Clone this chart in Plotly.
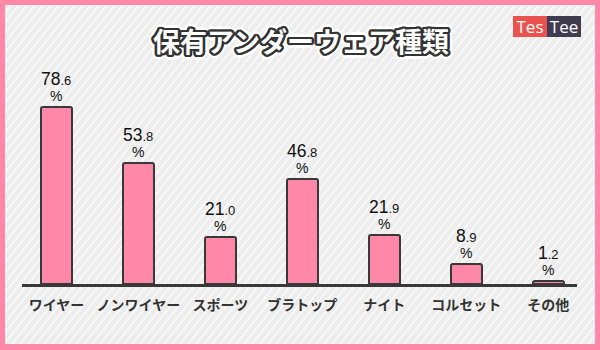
import math
import plotly.graph_objects as go

categories = ["ワイヤー", "ノンワイヤー", "スポーツ", "ブラトップ", "ナイト", "コルセット", "その他"]
values = [78.6, 53.8, 21.0, 46.8, 21.9, 8.9, 1.2]
title_text = "保有アンダーウェア種類"
logo_left = "Tes"
logo_right = "Tee"

W, H = 600, 350
ML, MR, MT, MB = 22, 23, 77, 66
PW, PH = W - ML - MR, H - MT - MB


def px(x):
    return (x - ML) / PW


def py(y):
    return (H - MB - y) / PH


PINK = "#FF88A8"
DARK = "#383838"

fig = go.Figure()
fig.add_trace(go.Bar(
    x=categories, y=values, width=0.385,
    marker=dict(color=PINK, line=dict(color=DARK, width=2), cornerradius=2),
    hoverinfo="skip",
))

shapes = []
segs = []
x_in0, x_in1, y_in0, y_in1 = 5, 595, 5, 344
c = -300
while c < 600:
    x0, y0 = c, y_in1
    x1, y1 = c + 0.8 * (y_in1 - y_in0), y_in0
    segs.append(f"M{px(x0):.5f},{py(y0):.5f} L{px(x1):.5f},{py(y1):.5f}")
    c += 8
shapes.append(dict(type="path", xref="paper", yref="paper", path=" ".join(segs),
                   line=dict(color="rgba(255,255,255,0.95)", width=1.2), layer="below"))
for (a, b, cc, d) in [(0, 0, 600, 5), (0, 344, 600, 350), (0, 0, 5, 350), (595, 0, 600, 350)]:
    shapes.append(dict(type="rect", xref="paper", yref="paper",
                       x0=px(a), x1=px(cc), y0=py(d), y1=py(b),
                       fillcolor=PINK, line=dict(width=0), layer="below"))

annotations = []
for cat, v in zip(categories, values):
    s = f"{v:.1f}"
    ip, dp = s.split(".")
    annotations.append(dict(
        x=cat, y=v, xref="x", yref="y", yanchor="bottom", yshift=1, showarrow=False,
        text=(f"<span style='font-size:17.5px'>{ip}</span>"
              f"<span style='font-size:13px'>.{dp}</span><br>"
              f"<span style='font-size:14px'>%</span>"),
        font=dict(family="Liberation Sans, Arial", size=12.5, color="#111111")))


def ring(r, n, col):
    out = []
    for k in range(n):
        a = 2 * math.pi * k / n
        out.append(f"{r*math.cos(a):.2f}px {r*math.sin(a):.2f}px 0 {col}")
    return out


shadow = ring(1.2, 12, "#333") + ring(2.4, 20, "#333") + ring(3.6, 24, "#fff") + ring(4.6, 28, "#fff")
annotations.append(dict(
    x=px(301), y=py(41), xref="paper", yref="paper", xanchor="center", yanchor="middle",
    showarrow=False, text=title_text,
    font=dict(family="Noto Sans CJK JP", size=27, color="#ffffff", weight="bold",
              shadow=", ".join(shadow))))

annotations.append(dict(
    x=px(513), y=py(26.5), xref="paper", yref="paper", xanchor="left", yanchor="middle",
    showarrow=False, text=logo_left, width=34, height=21, borderpad=0, borderwidth=0,
    bgcolor="#E9524F", font=dict(family="Open Sans", size=17, color="#ffffff")))
annotations.append(dict(
    x=px(547), y=py(26.5), xref="paper", yref="paper", xanchor="left", yanchor="middle",
    showarrow=False, text=logo_right, width=34, height=21, borderpad=0, borderwidth=0,
    bgcolor="#3F3B50", font=dict(family="Open Sans", size=17, color="#ffffff")))

fig.update_layout(
    width=W, height=H,
    margin=dict(l=ML, r=MR, t=MT, b=MB),
    paper_bgcolor="#EDEDED", plot_bgcolor="rgba(0,0,0,0)",
    showlegend=False, shapes=shapes, annotations=annotations,
    xaxis=dict(range=[-0.42, 6.35], showline=True, linecolor=DARK, linewidth=3,
               showgrid=False, zeroline=False, ticks="", ticklabelstandoff=6,
               tickfont=dict(family="Noto Sans CJK JP", size=14, color="#333333", weight="bold"),
               fixedrange=True),
    yaxis=dict(range=[0, 92], visible=False, showgrid=False, zeroline=False, fixedrange=True),
    bargap=0,
)

fig.write_html("out.html", config={"displayModeBar": False})
